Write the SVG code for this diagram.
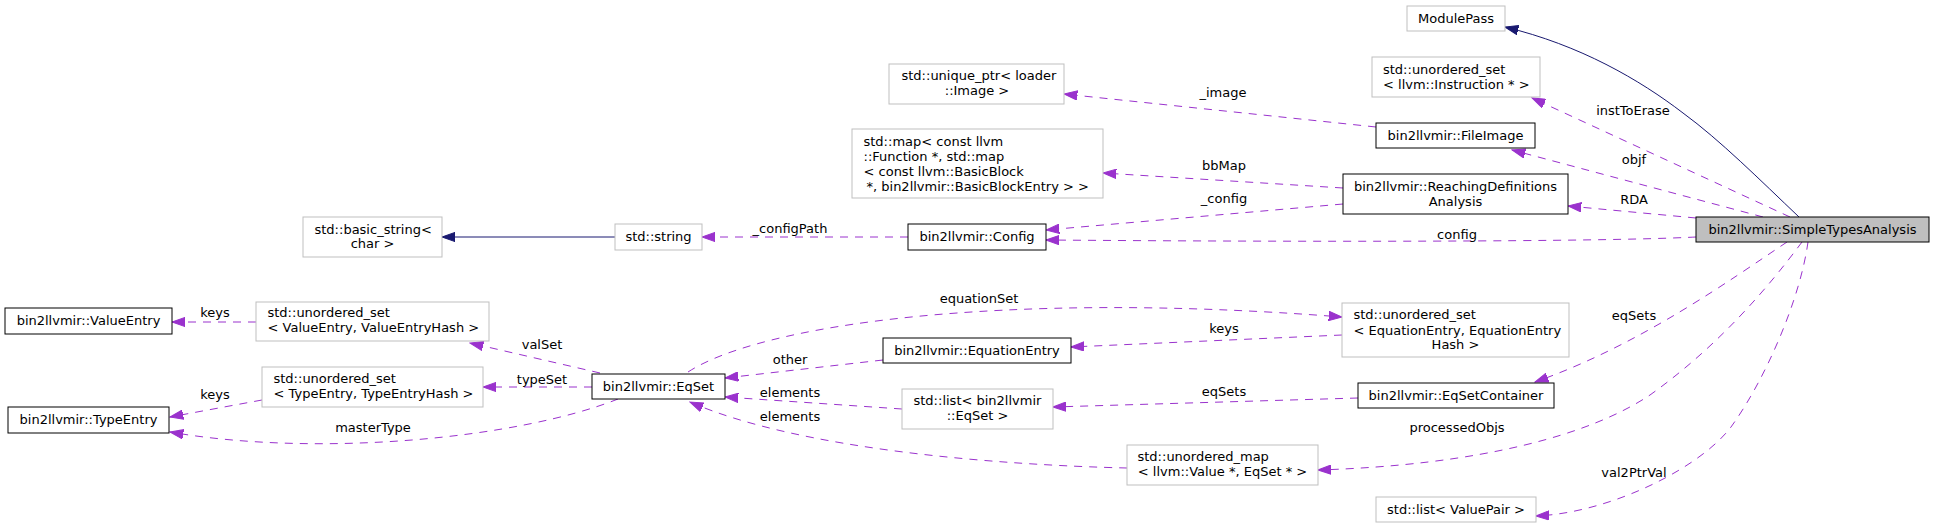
<svg xmlns="http://www.w3.org/2000/svg" width="1935" height="528" viewBox="0 0 1935 528">
<style>
text{font-family:"DejaVu Sans","Liberation Sans",sans-serif;font-size:13px;fill:#000}
.c{text-anchor:middle}
.g rect{fill:#fff;stroke:#bfbfbf;stroke-width:1}
.b rect{fill:#fff;stroke:#000;stroke-width:1}
.e path{fill:none;stroke:#9a32cd;stroke-width:1;stroke-dasharray:8,7;marker-end:url(#ap)}
.e path.inh{stroke:#191970;stroke-dasharray:none;marker-end:url(#an)}
</style>
<defs>
<marker id="ap" markerUnits="userSpaceOnUse" markerWidth="14" markerHeight="10" viewBox="0 0 14 10" refX="13.3" refY="5" orient="auto"><path d="M0,0.3 L13.3,5 L0,9.7 Z" fill="#9a32cd" stroke="#9a32cd" stroke-width="1"/></marker>
<marker id="an" markerUnits="userSpaceOnUse" markerWidth="14" markerHeight="10" viewBox="0 0 14 10" refX="13.3" refY="5" orient="auto"><path d="M0,0.3 L13.3,5 L0,9.7 Z" fill="#191970" stroke="#191970" stroke-width="1"/></marker>
</defs>
<rect width="1935" height="528" fill="#fff"/>
<g class="e" id="edges">
<path class="inh" d="M1799,217 C1760,180 1720,140 1683,113 C1640,80 1580,45 1505,27"/>
<path class="inh" d="M615,237 L442,237"/>
<path d="M1790,217 L1532,98"/>
<path d="M1763,217 L1512,150"/>
<path d="M1696,218 L1568,206"/>
<path d="M1696,237 C1600,242 1300,242 1046,240"/>
<path d="M1787,242 C1730,280 1640,345 1535,382"/>
<path d="M1802,242 C1770,285 1720,345 1650,395 C1590,435 1480,465 1318,470"/>
<path d="M1808,242 C1800,300 1765,380 1731,427 C1700,468 1610,513 1536,516"/>
<path d="M1376,127 L1064,94"/>
<path d="M1343,188 L1103,173"/>
<path d="M1343,204 L1046,230"/>
<path d="M908,237 L702,237"/>
<path d="M688,372 C760,325 1000,290 1342,317"/>
<path d="M1342,335 L1071,347"/>
<path d="M883,360 L725,378"/>
<path d="M902,409 L725,397"/>
<path d="M1127,468 C1000,465 800,450 690,402"/>
<path d="M1358,398 L1053,407"/>
<path d="M600,373 L470,343"/>
<path d="M592,387 L483,387"/>
<path d="M256,322 L172,322"/>
<path d="M262,400 L170,417"/>
<path d="M618,399 C520,438 320,458 170,432"/>
</g>
<g id="edge-labels" class="c">
<text x="1633" y="115">instToErase</text>
<text x="1634" y="163.5">objf</text>
<text x="1634" y="204">RDA</text>
<text x="1457" y="239">config</text>
<text x="1223" y="97">_image</text>
<text x="1224" y="170">bbMap</text>
<text x="1224" y="203">_config</text>
<text x="790" y="233">_configPath</text>
<text x="979" y="303">equationSet</text>
<text x="1224" y="332.5">keys</text>
<text x="790" y="364">other</text>
<text x="790" y="397">elements</text>
<text x="790" y="421">elements</text>
<text x="1224" y="395.5">eqSets</text>
<text x="1634" y="320">eqSets</text>
<text x="1457" y="432">processedObjs</text>
<text x="1634" y="477">val2PtrVal</text>
<text x="542" y="349">valSet</text>
<text x="542" y="384">typeSet</text>
<text x="215" y="317">keys</text>
<text x="215" y="399">keys</text>
<text x="373" y="431.5">masterType</text>
</g>
<g id="n-sta"><rect x="1696" y="217" width="233" height="25" fill="#bfbfbf" stroke="#000"/><text class="c" x="1812.5" y="234">bin2llvmir::SimpleTypesAnalysis</text></g>
<g id="n-modulepass" class="g"><rect x="1407" y="6" width="98" height="25"/><text class="c" x="1456" y="23">ModulePass</text></g>
<g id="n-instset" class="g"><rect x="1372" y="57" width="168" height="40"/><text x="1383" y="73.5">std::unordered_set</text><text x="1383" y="88.5">&lt; llvm::Instruction * &gt;</text></g>
<g id="n-uniqueptr" class="g"><rect x="889" y="64" width="175" height="40"/><text x="901.5" y="80">std::unique_ptr&lt; loader</text><text class="c" x="977" y="95">::Image &gt;</text></g>
<g id="n-map" class="g"><rect x="852" y="129" width="251" height="69"/><text x="863.5" y="145.5">std::map&lt; const llvm</text><text x="863.5" y="160.5">::Function *, std::map</text><text x="863.5" y="175.5">&lt; const llvm::BasicBlock</text><text x="866.5" y="190.5">*, bin2llvmir::BasicBlockEntry &gt; &gt;</text></g>
<g id="n-basicstring" class="g"><rect x="303" y="217" width="139" height="40"/><text x="314.5" y="233.5">std::basic_string&lt;</text><text class="c" x="372.5" y="248">char &gt;</text></g>
<g id="n-string" class="g"><rect x="615" y="224" width="87" height="26"/><text class="c" x="658.5" y="241">std::string</text></g>
<g id="n-valset" class="g"><rect x="256" y="302" width="233" height="39"/><text x="267.5" y="317">std::unordered_set</text><text x="267.5" y="332">&lt; ValueEntry, ValueEntryHash &gt;</text></g>
<g id="n-typeset" class="g"><rect x="262" y="367" width="221" height="40"/><text x="273.5" y="383">std::unordered_set</text><text x="273.5" y="397.5">&lt; TypeEntry, TypeEntryHash &gt;</text></g>
<g id="n-eqlist" class="g"><rect x="902" y="389" width="151" height="40"/><text x="913.5" y="405">std::list&lt; bin2llvmir</text><text class="c" x="977.5" y="420">::EqSet &gt;</text></g>
<g id="n-eqentryset" class="g"><rect x="1342" y="303" width="227" height="54"/><text x="1353.5" y="319">std::unordered_set</text><text x="1353.5" y="334.5">&lt; EquationEntry, EquationEntry</text><text class="c" x="1455.5" y="349">Hash &gt;</text></g>
<g id="n-umap" class="g"><rect x="1127" y="445" width="191" height="40"/><text x="1137.5" y="461">std::unordered_map</text><text class="c" x="1222.5" y="476">&lt; llvm::Value *, EqSet * &gt;</text></g>
<g id="n-valuepair" class="g"><rect x="1376" y="497" width="160" height="25"/><text class="c" x="1456" y="514">std::list&lt; ValuePair &gt;</text></g>
<g id="n-fileimage" class="b"><rect x="1376" y="123" width="159" height="25"/><text class="c" x="1455.5" y="140">bin2llvmir::FileImage</text></g>
<g id="n-rda" class="b"><rect x="1343" y="174" width="225" height="40"/><text class="c" x="1455.5" y="191">bin2llvmir::ReachingDefinitions</text><text class="c" x="1455.5" y="205.5">Analysis</text></g>
<g id="n-config" class="b"><rect x="908" y="224" width="138" height="26"/><text class="c" x="977" y="241">bin2llvmir::Config</text></g>
<g id="n-valueentry" class="b"><rect x="5" y="308" width="167" height="26"/><text class="c" x="88.5" y="325">bin2llvmir::ValueEntry</text></g>
<g id="n-typeentry" class="b"><rect x="8" y="407" width="161" height="26"/><text class="c" x="88.5" y="424">bin2llvmir::TypeEntry</text></g>
<g id="n-eqset" class="b"><rect x="592" y="374" width="133" height="25"/><text class="c" x="658.5" y="391">bin2llvmir::EqSet</text></g>
<g id="n-eqentry" class="b"><rect x="883" y="338" width="188" height="25"/><text class="c" x="977" y="355">bin2llvmir::EquationEntry</text></g>
<g id="n-eqsetcontainer" class="b"><rect x="1358" y="383" width="196" height="25"/><text class="c" x="1456" y="400">bin2llvmir::EqSetContainer</text></g>
</svg>
